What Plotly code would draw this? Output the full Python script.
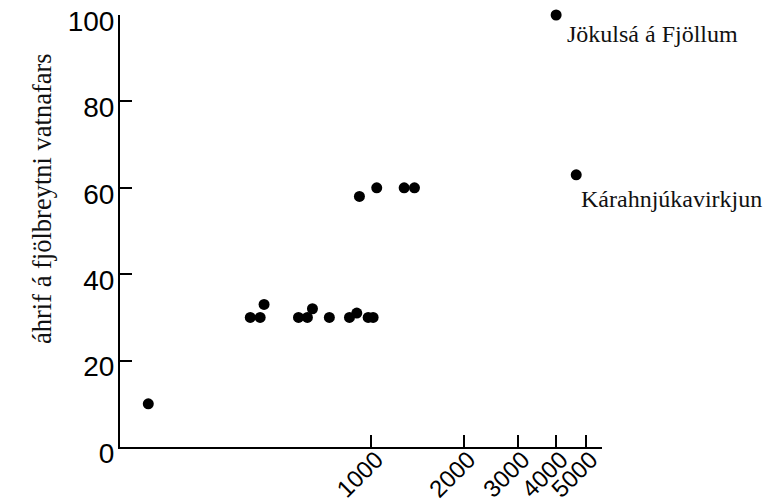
import math
import plotly.graph_objects as go

# Data
x_vals = [188, 404, 435, 448, 580, 620, 644, 731, 850, 898, 978, 1015,
          916, 1043, 1281, 1384, 4005, 4656]
y_vals = [10, 30, 30, 33, 30, 30, 32, 30, 30, 31, 30, 30,
          58, 60, 60, 60, 100, 63]
labels = {16: "Jökulsá á Fjöllum", 17: "Kárahnjúkavirkjun"}
label_shift = {16: (9, -19), 17: (3, -24)}
x_ticks = [1000, 2000, 3000, 4000, 5000]
y_ticks = [0, 20, 40, 60, 80, 100]
y_title = "áhrif á fjölbreytni vatnafars"

W, H = 770, 496
L, R, T, B = 112, 176, 7, 57

fig = go.Figure()
fig.add_trace(go.Scatter(
    x=x_vals, y=y_vals, mode="markers",
    marker=dict(color="black", size=11, line=dict(width=0)),
    showlegend=False, hoverinfo="skip", cliponaxis=False))

for i, t in labels.items():
    dx, dy = label_shift[i]
    fig.add_annotation(x=math.log10(x_vals[i]), y=y_vals[i], xref="x", yref="y",
                       text=t, showarrow=False, xanchor="left", yanchor="middle",
                       xshift=dx, yshift=dy,
                       font=dict(family="Liberation Serif", size=24, color="#111"))

pw, ph = W - L - R, H - T - B
fig.add_annotation(xref="paper", yref="paper",
                   x=(42 - 8 - L) / pw, y=(H - B - (199 - 8)) / ph, text=y_title,
                   showarrow=False, textangle=-90, xanchor="center", yanchor="middle",
                   font=dict(family="Liberation Serif", size=26.5, color="#111"))

fig.update_xaxes(type="log", range=[2.182, 3.752], tickvals=x_ticks,
                 ticktext=[str(v) for v in x_ticks],
                 ticks="inside", ticklen=12, tickwidth=2, tickcolor="black",
                 tickangle=-45, showline=True, linewidth=2, linecolor="black",
                 showgrid=False, zeroline=False, automargin=False,
                 ticklabeloverflow="allow", ticklabelstandoff=-13,
                 ticklabelshift=5,
                 tickfont=dict(family="Liberation Sans", size=24, color="black"))
fig.update_yaxes(range=[0, 100], tickvals=y_ticks,
                 ticks="inside", ticklen=12, tickwidth=2, tickcolor="black",
                 showline=True, linewidth=2, linecolor="black",
                 showgrid=False, zeroline=False, ticklabelstandoff=-2,
                 ticklabelshift=6, automargin=False, ticklabeloverflow="allow",
                 tickfont=dict(family="Liberation Sans", size=28, color="black"))

fig.update_layout(width=W, height=H, paper_bgcolor="white", plot_bgcolor="white",
                  margin=dict(l=L, r=R, t=T, b=B), showlegend=False)

fig.write_html("out.html")
